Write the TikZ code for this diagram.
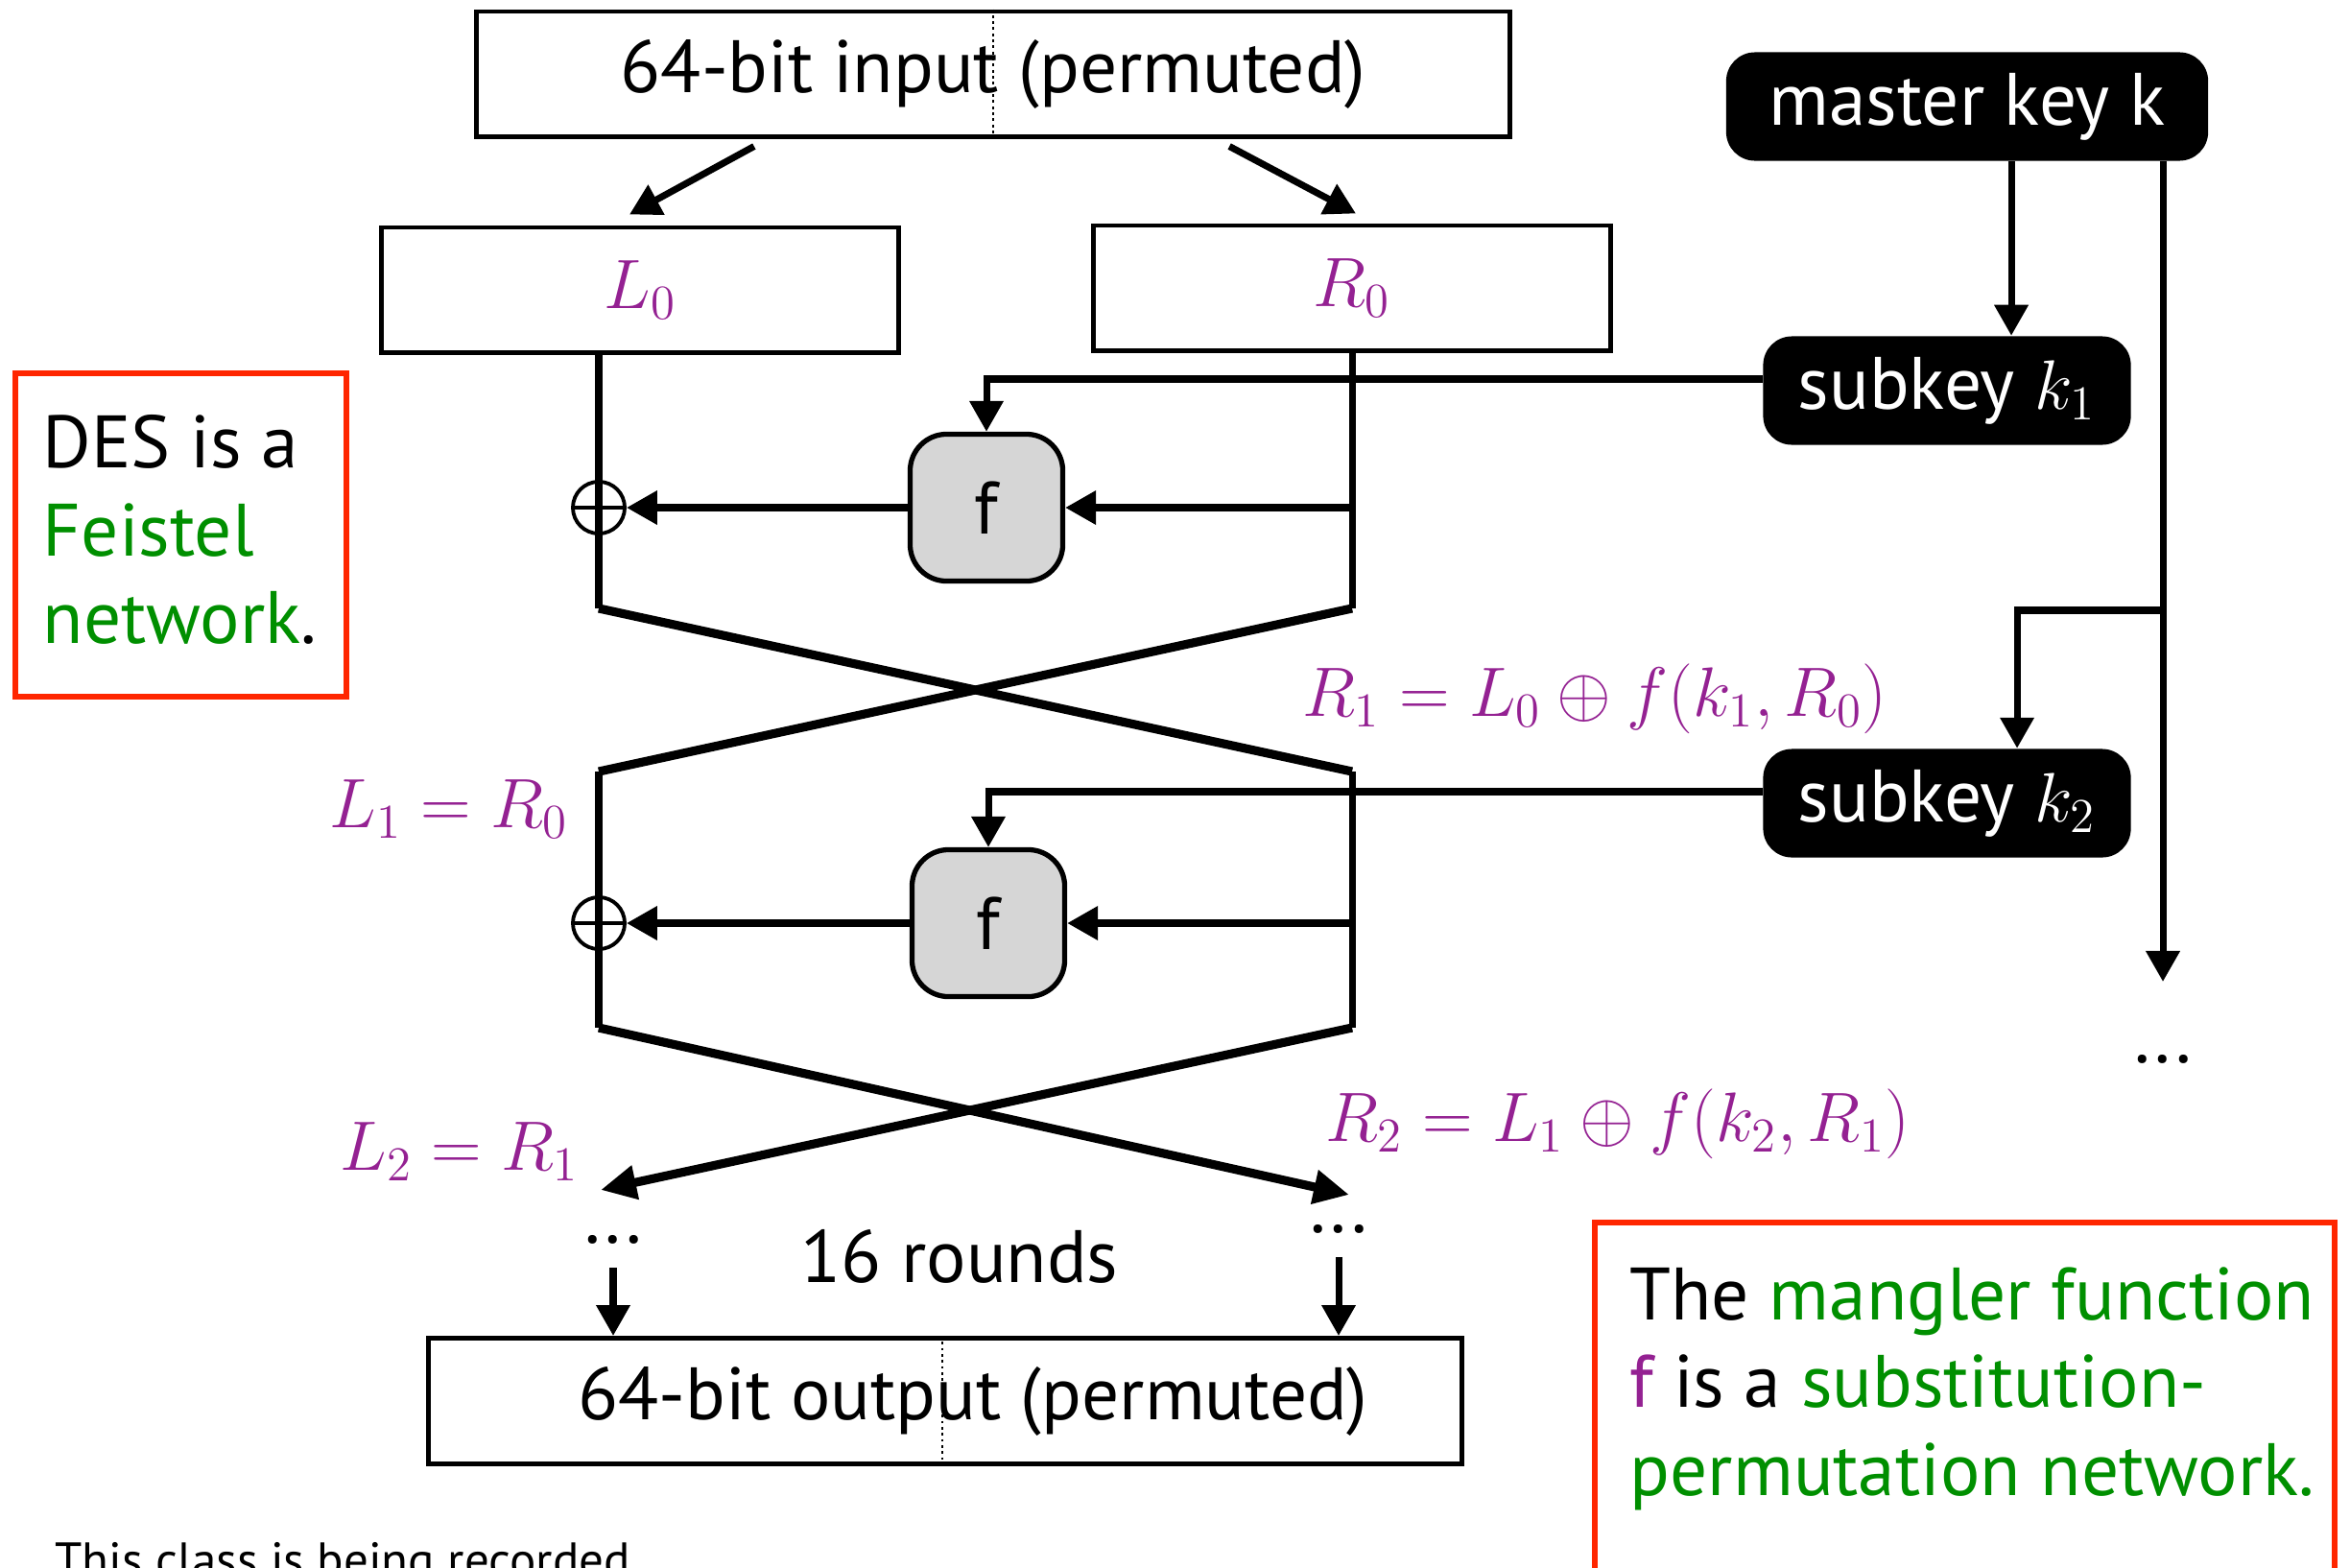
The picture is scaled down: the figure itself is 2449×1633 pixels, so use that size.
\documentclass[tikz,border=0pt]{standalone}
\usepackage{fontspec}
\setmainfont{PT Sans}
\usetikzlibrary{arrows.meta,positioning,shapes.geometric}
\definecolor{despurple}{RGB}{148,33,146}
\definecolor{desgreen}{RGB}{0,143,0}
\definecolor{desred}{RGB}{255,38,0}
\definecolor{fgray}{RGB}{214,214,214}
\begin{document}
\begin{tikzpicture}[
        x=0.01cm, y=-0.01cm,
        every node/.style={font=\fontsize{22}{26}\selectfont},
        block/.style={rectangle, draw=black, line width=1.4pt, minimum width=5.38cm, minimum height=1.3cm},
        keybox/.style={rectangle, rounded corners=0.3cm, fill=black, text=white, minimum width=3.83cm, minimum height=1.13cm},
        fbox/.style={rectangle, rounded corners=0.38cm, draw=black, line width=1.5pt, fill=fgray, minimum width=1.59cm, minimum height=1.53cm},
        xorc/.style={circle, draw=black, line width=1.1pt, minimum size=0.54cm, inner sep=0pt},
        wire/.style={line width=2pt},
        cross/.style={line width=2.6pt},
        arrow/.style={line width=2pt, -{Triangle[length=0.32cm,width=0.34cm]}},
        note/.style={draw=desred, line width=1.7pt},
        lbl/.style={text=despurple}
    ]
        \useasboundingbox (0,0) rectangle (2449,1633);
        \clip (0,0) rectangle (2449,1633);

        % Input and the two halves
        \node (input) [block, minimum width=10.77cm] at (1035,77) {64-bit input (permuted)};
        \draw[densely dotted, thick] (input.north) -- (input.south);
        \node (L0) [block, lbl] at (667,302) {$L_0$};
        \node (R0) [block, lbl] at (1409,300) {$R_0$};
        \draw[arrow] ([xshift=-2.49cm,yshift=-0.08cm]input.south) -- ([xshift=-0.11cm,yshift=0.11cm]L0.north);
        \draw[arrow] ([xshift=2.46cm,yshift=-0.08cm]input.south) -- ([xshift=0.04cm,yshift=0.10cm]R0.north);

        % Round 1
        \node (f1) [fbox] at (1028,529) {f};
        \node (x1) [xorc] at (624,529) {};
        \coordinate (c1l) at (624,634);
        \coordinate (c1r) at (1409,634);
        \coordinate (c2l) at (624,804);
        \coordinate (c2r) at (1409,804);
        \draw[wire] (L0.south -| x1) -- (c1l);
        \draw[wire] (R0.south -| c1r) -- (c1r);
        \draw[line width=1.1pt] (x1.west) -- (x1.east);
        \draw[arrow] (c1r |- f1) -- (f1.east);
        \draw[arrow] (f1.west) -- (x1.east);
        \draw[cross] (c1l) -- (c2r);
        \draw[cross] (c1r) -- (c2l);

        % Round 2
        \node (f2) [fbox] at (1030,962) {f};
        \node (x2) [xorc] at (624,962) {};
        \coordinate (c3l) at (624,1071);
        \coordinate (c3r) at (1409,1071);
        \coordinate (e2l) at (626,1240);
        \coordinate (e2r) at (1406,1245);
        \draw[wire] (c2l) -- (c3l);
        \draw[wire] (c2r) -- (c3r);
        \draw[line width=1.1pt] (x2.west) -- (x2.east);
        \draw[arrow] (c3r |- f2) -- (f2.east);
        \draw[arrow] (f2.west) -- (x2.east);
        \draw[cross, -{Triangle[length=0.37cm,width=0.34cm]}] (c3l) -- (e2r);
        \draw[cross, -{Triangle[length=0.37cm,width=0.34cm]}] (c3r) -- (e2l);

        % Key schedule
        \node (mk) [keybox, minimum width=5.02cm] at (2050,111) {master key k};
        \node (k1) [keybox] at (2029,407) {subkey $k_1$};
        \node (k2) [keybox] at (2029,837) {subkey $k_2$};
        \coordinate (trunk) at (2254,1023);
        \coordinate (branch) at (2254,636);
        \node (kdots) at (2254,1104) {...};
        \draw[arrow] ([xshift=0.46cm]mk.south) -- ([xshift=0.46cm]mk.south |- k1.north);
        \draw[arrow] (mk.south -| trunk) -- (trunk);
        \draw[arrow] (branch) -| ([xshift=0.73cm]k2.north);
        \draw[arrow] ([yshift=0.12cm]k1.west) -| (f1.north);
        \draw[arrow] ([yshift=0.12cm]k2.west) -| (f2.north);

        % Labels
        \node (r1eq) [lbl] at (1662,728) {$R_1 = L_0 \oplus f(k_1, R_0)$};
        \node (l1eq) [lbl] at (468,843) {$L_1 = R_0$};
        \node (l2eq) [lbl] at (479,1200) {$L_2 = R_1$};
        \node (r2eq) [lbl] at (1686,1171) {$R_2 = L_1 \oplus f(k_2, R_1)$};

        % Output
        \node (out) [block, minimum width=10.77cm, minimum height=1.31cm] at (985,1460) {\hspace*{0.58cm}64-bit output (permuted)};
        \draw[densely dotted, thick] ([xshift=-0.03cm]out.north) -- ([xshift=-0.03cm]out.south);
        \node (dl) at (639,1292) {...};
        \node (dr) at (1395,1281) {...};
        \node (rounds) at (1000,1309) {16 rounds};
        \draw[arrow] ([yshift=-0.12cm]dl.south) -- (dl.south |- out.north);
        \draw[arrow] ([yshift=-0.12cm]dr.south) -- (dr.south |- out.north);

        % Notes
        \draw[note] (16,389) rectangle (361,726);
        \node (des) [anchor=north west, align=left, inner sep=0pt] at (44,432) {DES is a\\\textcolor{desgreen}{Feistel}\\\textcolor{desgreen}{network}.};
        \draw[note] (1662,1274) rectangle (2433,1700);
        \node (mangler) [anchor=north west, align=left, inner sep=0pt] at (1698,1320) {The \textcolor{desgreen}{mangler function}\\\textcolor{despurple}{f} is a \textcolor{desgreen}{substitution-}\\\textcolor{desgreen}{permutation network.}};
        \node (rec) [anchor=base west, font=\fontsize{14.5}{17}\selectfont] at (45,1643) {This class is being recorded};
    \end{tikzpicture}
\end{document}
